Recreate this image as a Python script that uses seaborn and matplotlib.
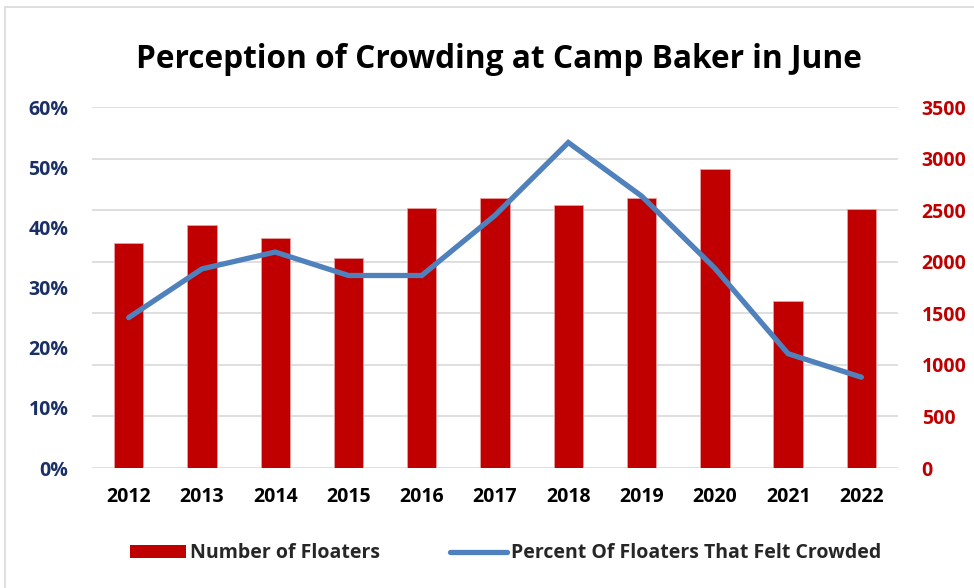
import numpy as np
import pandas as pd
import matplotlib.pyplot as plt
import seaborn as sns
from matplotlib.patches import Patch, Rectangle
from matplotlib.lines import Line2D

years = ['2012', '2013', '2014', '2015', '2016', '2017', '2018', '2019', '2020', '2021', '2022']
floaters = [2180, 2355, 2226, 2032, 2517, 2620, 2546, 2614, 2895, 1620, 2513]
pct_crowded = [0.25, 0.331, 0.359, 0.32, 0.32, 0.42, 0.541, 0.452, 0.332, 0.19, 0.151]

sns.set_style('white')
plt.rcParams['font.family'] = ['Open Sans', 'DejaVu Sans']
plt.rcParams['font.weight'] = 'bold'

df = pd.DataFrame({'Year': years, 'Floaters': floaters, 'Pct': pct_crowded})

fig = plt.figure(figsize=(9.74, 5.88), dpi=100)
ax = fig.add_axes([0.0945, 0.204, 0.8275, 0.614])

# bars on the right axis (drawn first so the line sits on top)
sns.barplot(data=df, x='Year', y='Floaters', color='#C00000', width=0.4,
            saturation=1, edgecolor='#E8A0A0', linewidth=0.6, ax=ax)
ax.set_ylim(0, 3500)
ax.set_yticks(np.arange(0, 3501, 500))
ax.set_xlim(-0.5, 10.5)
ax.grid(axis='y', color='#D9D9D9', linewidth=1.2)
ax.set_axisbelow(True)
for s in ax.spines.values():
    s.set_visible(False)
ax.set_xlabel('')
ax.set_ylabel('')

# line on the left axis
ax2 = ax.twinx()
sns.lineplot(x=np.arange(len(years)), y=pct_crowded, color='#4F81BD', linewidth=3.8,
             ax=ax2, solid_capstyle='round', solid_joinstyle='miter')
ax.yaxis.tick_right()
ax2.yaxis.tick_left()
ax2.set_ylim(0, 0.6)
ax2.set_yticks(np.arange(0, 0.61, 0.1))
ax2.set_yticklabels([f'{int(round(v * 100))}%' for v in np.arange(0, 0.61, 0.1)])
for s in ax2.spines.values():
    s.set_visible(False)
ax2.set_ylabel('')

ax.tick_params(axis='y', length=0, pad=17, labelsize=14, labelcolor='#C00000')
ax.tick_params(axis='x', length=0, pad=14, labelsize=14, labelcolor='black')
ax2.tick_params(axis='y', length=0, pad=17, labelsize=14, labelcolor='#1A2F66')

fig.text(0.512, 0.899, 'Perception of Crowding at Camp Baker in June', ha='center', va='center',
         fontsize=22.8, fontweight='bold', color='black')

handles = [Patch(facecolor='#C00000', edgecolor='none'),
           Line2D([0], [0], color='#4F81BD', linewidth=3.8, solid_capstyle='round')]
fig.legend(handles, ['Number of Floaters', 'Percent Of Floaters That Felt Crowded'],
           loc='center', bbox_to_anchor=(0.519, 0.059), ncol=2, frameon=False,
           prop={'size': 14, 'weight': 'bold'}, handlelength=2.9, handletextpad=0.2,
           columnspacing=3.6)

# chart frame
fig.patches.append(Rectangle((5 / 974, -0.1), 1.2, (588 - 7) / 588 + 0.1, transform=fig.transFigure,
                             fill=False, edgecolor='#D9D9D9', linewidth=1.2))

fig.savefig('out.png', dpi=100)
